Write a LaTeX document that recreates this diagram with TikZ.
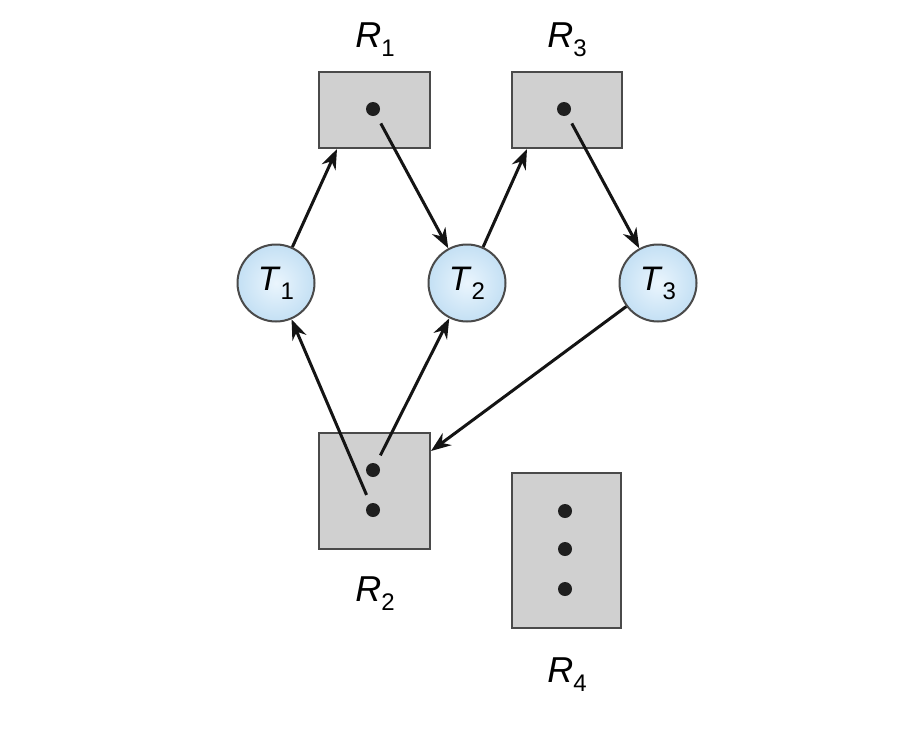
\documentclass[tikz,border=0pt]{standalone}
\usepackage{fontspec}
\setmainfont{Liberation Sans}
\usetikzlibrary{arrows.meta}
\definecolor{boxgray}{HTML}{D0D0D0}
\definecolor{edgegray}{HTML}{4A4A4A}
\definecolor{ballin}{HTML}{EAF5FD}
\definecolor{ballout}{HTML}{C4E0F4}
\newcommand{\lbl}[2]{\textit{#1}\raisebox{-4.5pt}{\fontsize{12}{12}\selectfont #2}}
\newcommand{\tlbl}[2]{\textit{#1}\raisebox{-4.5pt}{\fontsize{12}{12}\selectfont #2}}
\begin{document}
\begin{tikzpicture}[x=0.5pt,y=-0.5pt,
  resbox/.style={draw=edgegray,line width=1pt,fill=boxgray,inner sep=0pt},
  thread/.style={circle,draw=edgegray,line width=1pt,inner color=ballin,outer color=ballout,minimum size=38.5pt,inner sep=0pt,font=\fontsize{17}{17}\selectfont},
  dotn/.style={circle,fill=black!88,minimum size=7pt,inner sep=0pt},
  reslabel/.style={font=\fontsize{18}{18}\selectfont,inner sep=0pt},
  arr/.style={line width=1.5pt,black!92,-{Stealth[length=10pt,width=7.5pt]}}]
\useasboundingbox (0,0) rectangle (914,734);
% resources
\node[resbox,minimum width=55.5pt,minimum height=38pt] (R1) at (374.5,110) {};
\node[resbox,minimum width=55pt,minimum height=38pt] (R3) at (567,110) {};
\node[resbox,minimum width=55.5pt,minimum height=58pt] (R2) at (374.5,491) {};
\node[resbox,minimum width=54.5pt,minimum height=77.5pt] (R4) at (566.5,550.5) {};
% dots
\node[dotn] (d1) at (373,109) {};
\node[dotn] (d3) at (564,109) {};
\node[dotn] (d2a) at (373,470) {};
\node[dotn] (d2b) at (373,510) {};
\node[dotn] (d4a) at (565,511) {};
\node[dotn] (d4b) at (565,549) {};
\node[dotn] (d4c) at (565,589) {};
% threads
\node[thread] (T1) at (276,283) {\tlbl{T}{1}};
\node[thread] (T2) at (467,283) {\tlbl{T}{2}};
\node[thread] (T3) at (658,283) {\tlbl{T}{3}};
% labels
\node[reslabel] (L1) at (375,40) {\lbl{R}{1}};
\node[reslabel] (L3) at (567,40) {\lbl{R}{3}};
\node[reslabel] (L2) at (375,594) {\lbl{R}{2}};
\node[reslabel] (L4) at (567,675) {\lbl{R}{4}};
% connectors
\coordinate (a1) at ([xshift=9.5pt]R1.south west);
\coordinate (a3) at ([xshift=8pt]R3.south west);
\coordinate (a2) at ([yshift=20pt]R2.east);
\draw[arr] (T1) -- (a1);
\draw[arr,shorten <=4.5pt] (d1) -- (T2);
\draw[arr] (T2) -- (a3);
\draw[arr,shorten <=4.5pt] (d3) -- (T3);
\draw[arr,shorten <=4.5pt] (d2b) -- (T1);
\draw[arr,shorten <=4.5pt] (d2a) -- (T2);
\draw[arr] (T3) -- (a2);
\end{tikzpicture}
\end{document}
